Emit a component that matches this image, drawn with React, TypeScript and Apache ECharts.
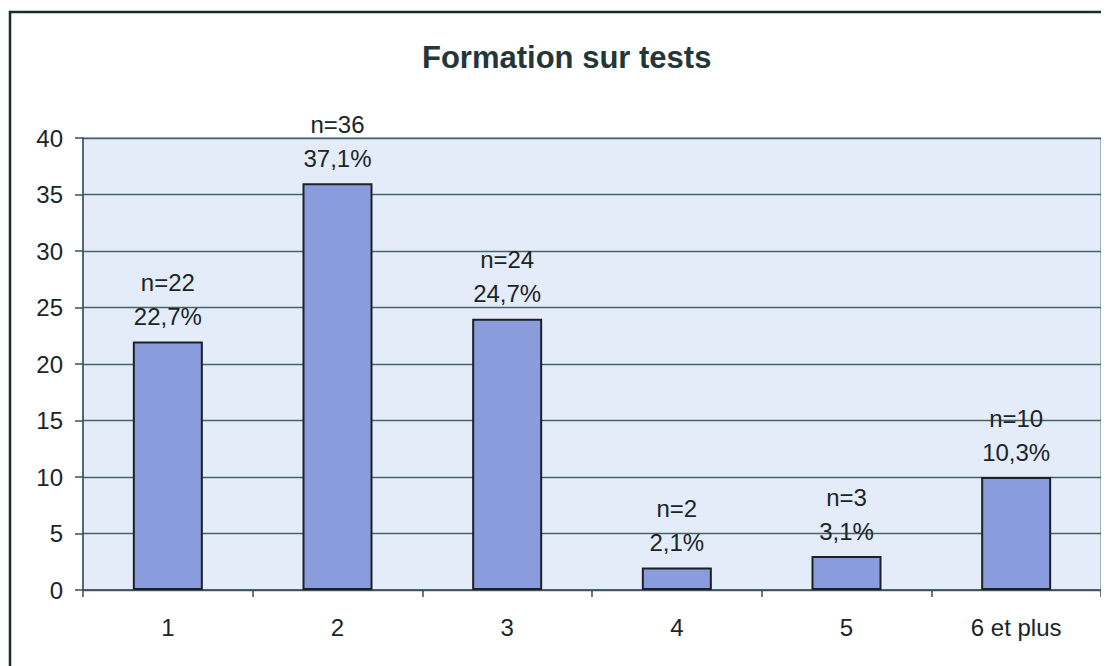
import React, { useEffect, useRef } from "react";
import * as echarts from "echarts";

const titleText = "Formation sur tests";
const categories = ["1", "2", "3", "4", "5", "6 et plus"];
const counts = [22, 36, 24, 2, 3, 10];
const percents = ["22,7%", "37,1%", "24,7%", "2,1%", "3,1%", "10,3%"];
const yMin = 0;
const yMax = 40;
const yInterval = 5;

export default function App() {
  const ref = useRef<HTMLDivElement>(null);
  useEffect(() => {
    if (!ref.current) return;
    const chart = echarts.init(ref.current, null, { renderer: "svg" });
    const font = "'Liberation Sans', Arial, sans-serif";
    const textColor = "#1a2528";
    chart.setOption({
      animation: false,
      backgroundColor: "#ffffff",
      textStyle: { fontFamily: font },
      title: {
        text: titleText,
        left: 409,
        top: 29,
        textStyle: { fontFamily: font, fontSize: 31, fontWeight: "bold", color: "#243638" },
      },
      graphic: [
        {
          type: "rect",
          shape: { x: 2, y: 4, width: 1300, height: 900 },
          style: { fill: "none", stroke: "#1c2a2e", lineWidth: 2.5 },
          silent: true,
          z: 100,
        },
      ],
      grid: {
        left: 75,
        top: 130,
        right: 8,
        bottom: 76,
        show: true,
        backgroundColor: "#e3ecf8",
        borderColor: "#5d7a80",
        borderWidth: 1,
      },
      xAxis: {
        type: "category",
        data: categories,
        axisLine: { show: true, lineStyle: { color: "#3a4f54", width: 1.5 } },
        axisTick: { show: true, alignWithLabel: false, length: 7, lineStyle: { color: "#3a4f54", width: 1.5 } },
        axisLabel: { color: textColor, fontSize: 24, margin: 25, fontFamily: font },
        splitLine: { show: false },
      },
      yAxis: {
        type: "value",
        min: yMin,
        max: yMax,
        interval: yInterval,
        axisLine: { show: true, lineStyle: { color: "#3a4f54", width: 1.5 } },
        axisTick: { show: true, length: 8, lineStyle: { color: "#3a4f54", width: 1.5 } },
        axisLabel: { color: textColor, fontSize: 24, margin: 20, fontFamily: font },
        splitLine: { show: true, lineStyle: { color: "#45636a", width: 1.3 } },
      },
      series: [
        {
          type: "bar",
          data: counts,
          barWidth: 70,
          itemStyle: { color: "#8a9cdc", borderColor: "#1c2224", borderWidth: 2 },
          label: {
            show: true,
            position: "top",
            distance: 8,
            color: textColor,
            fontSize: 24,
            lineHeight: 34,
            fontFamily: font,
            formatter: (p: any) => `n=${p.value}\n${percents[p.dataIndex]}`,
          },
        },
      ],
    });
    return () => chart.dispose();
  }, []);
  return <div ref={ref} style={{ width: 1101, height: 658 }} />;
}
